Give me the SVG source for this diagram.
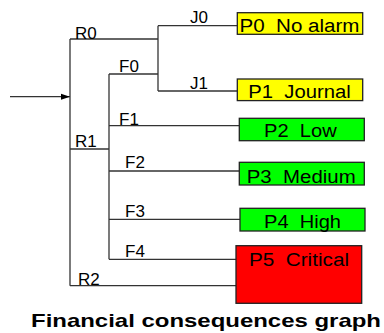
<svg xmlns="http://www.w3.org/2000/svg" width="384" height="333" viewBox="0 0 384 333">
<style>
.c{stroke:#333;stroke-width:1.3;fill:none}
.lb{font-family:"Liberation Sans",Arial,sans-serif;font-size:17px;fill:#000}
.bx{stroke:#222;stroke-width:1.3}
.nt{font-family:"Liberation Sans",Arial,sans-serif;font-size:18px;fill:#000;white-space:pre}
.ttl{font-family:"Liberation Sans",Arial,sans-serif;font-size:19px;font-weight:bold;fill:#000}
</style>
<defs>
<marker id="ah" markerWidth="10" markerHeight="8" refX="9" refY="4" orient="auto" markerUnits="userSpaceOnUse">
<path d="M0,1 L9,4 L0,7 Z" fill="#000"/>
</marker>
</defs>
<g id="connectors">
<line class="c" x1="10" y1="96.7" x2="70" y2="96.7" marker-end="url(#ah)"/>
<path class="c" d="M70,39 V285.7"/>
<path class="c" d="M70,39 H158"/>
<path class="c" d="M158,25.7 V91"/>
<path class="c" d="M158,25.7 H237.3"/>
<path class="c" d="M158,91 H237.3"/>
<path class="c" d="M109,74 H158"/>
<path class="c" d="M109,74 V259.3"/>
<path class="c" d="M70,149 H109"/>
<path class="c" d="M109,125.7 H239.3"/>
<path class="c" d="M109,171 H239.3"/>
<path class="c" d="M109,219.3 H240"/>
<path class="c" d="M109,259.3 H236"/>
<path class="c" d="M70,285.7 H236"/>
<text class="lb" x="75" y="38.5">R0</text>
<text class="lb" x="190" y="23">J0</text>
<text class="lb" x="119" y="72">F0</text>
<text class="lb" x="190" y="88.5">J1</text>
<text class="lb" x="119" y="124.5">F1</text>
<text class="lb" x="75" y="146.5">R1</text>
<text class="lb" x="125" y="168.3">F2</text>
<text class="lb" x="125" y="216.7">F3</text>
<text class="lb" x="125" y="256.7">F4</text>
<text class="lb" x="78" y="285">R2</text>
</g>
<g id="P0">
<rect class="bx" x="237.3" y="12.7" width="125.4" height="21.6" fill="#FFFF00"/>
<text class="nt" xml:space="preserve" x="239.5" y="31.5" textLength="120" lengthAdjust="spacingAndGlyphs">P0  No alarm</text>
</g>
<g id="P1">
<rect class="bx" x="237.3" y="79" width="125.4" height="21.6" fill="#FFFF00"/>
<text class="nt" xml:space="preserve" x="248.3" y="98.3" textLength="102.4" lengthAdjust="spacingAndGlyphs">P1  Journal</text>
</g>
<g id="P2">
<rect class="bx" x="239.3" y="118.3" width="125" height="22.4" fill="#00FF00"/>
<text class="nt" xml:space="preserve" x="264" y="137.3" textLength="72.7" lengthAdjust="spacingAndGlyphs">P2  Low</text>
</g>
<g id="P3">
<rect class="bx" x="239.3" y="162.3" width="125" height="22.7" fill="#00FF00"/>
<text class="nt" xml:space="preserve" x="246.7" y="182.7" textLength="109" lengthAdjust="spacingAndGlyphs">P3  Medium</text>
</g>
<g id="P4">
<rect class="bx" x="240" y="208.3" width="125" height="22.7" fill="#00FF00"/>
<text class="nt" xml:space="preserve" x="264" y="228.3" textLength="77" lengthAdjust="spacingAndGlyphs">P4  High</text>
</g>
<g id="P5">
<rect class="bx" x="236" y="245.7" width="125.7" height="57.6" fill="#FF0000"/>
<text class="nt" xml:space="preserve" x="249" y="266" textLength="100" lengthAdjust="spacingAndGlyphs">P5  Critical</text>
</g>
<text class="ttl" x="31" y="326.7" textLength="350" lengthAdjust="spacingAndGlyphs">Financial consequences graph</text>
</svg>
